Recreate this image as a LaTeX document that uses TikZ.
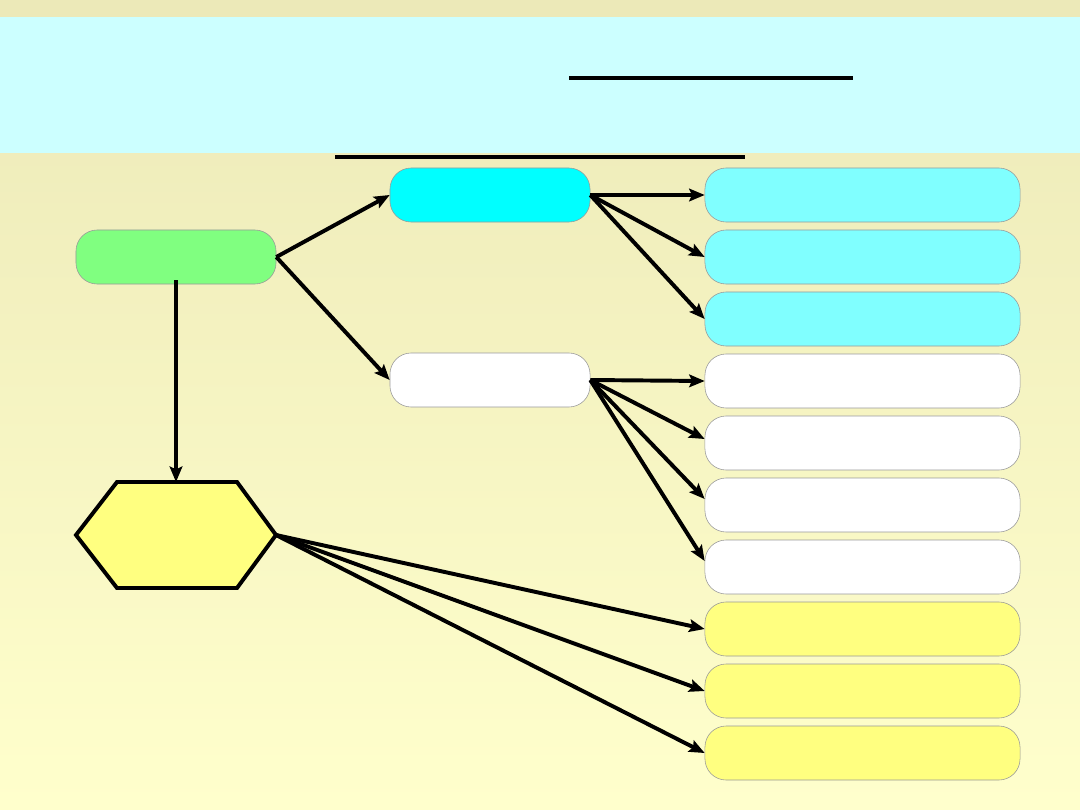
\documentclass[tikz,border=0pt]{standalone}
\usetikzlibrary{arrows.meta,shapes.geometric}
\definecolor{bgtop}{HTML}{ECE9B8}
\definecolor{bgbot}{HTML}{FFFFCC}
\definecolor{band}{HTML}{CCFFFF}
\definecolor{greenfill}{HTML}{80FF80}
\definecolor{cyanfill}{HTML}{00FFFF}
\definecolor{lcyan}{HTML}{80FFFF}
\definecolor{lyellow}{HTML}{FFFF80}
\definecolor{edgegray}{HTML}{999999}
\tikzset{
  box/.style={draw=edgegray, line width=0.4pt, rounded corners=15pt, inner sep=0pt,
              minimum height=1.35cm},
  midbox/.style={box, minimum width=5cm},
  rbox/.style={box, minimum width=7.875cm},
  conn/.style={line width=2.8pt, -{Stealth[length=11pt,width=9pt,inset=2pt]}},
  rule/.style={line width=2.8pt},
}
\begin{document}
\begin{tikzpicture}[x=0.025cm,y=-0.025cm]
\useasboundingbox (0,0) rectangle (1080,810);
% background
\shade[top color=bgtop, bottom color=bgbot] (0,0) rectangle (1080,810);
\fill[band] (0,17) rectangle (1080,153);
\coordinate (r1a) at (569,78); \coordinate (r1b) at (853,78);
\coordinate (r2a) at (335,157); \coordinate (r2b) at (745,157);
\draw[rule] (r1a) -- (r1b);
\draw[line width=2.2pt] (r2a) -- (r2b);
% main nodes
\node[midbox, fill=greenfill] (g) at (176,257) {};
\node[midbox, fill=cyanfill] (c) at (490,195) {};
\node[midbox, fill=white] (w) at (490,380) {};
% right boxes
\node[rbox, fill=lcyan] (b1) at (862.5,195) {};
\node[rbox, fill=lcyan] (b2) at (862.5,257) {};
\node[rbox, fill=lcyan] (b3) at (862.5,319) {};
\node[rbox, fill=white] (b4) at (862.5,381) {};
\node[rbox, fill=white] (b5) at (862.5,443) {};
\node[rbox, fill=white] (b6) at (862.5,505) {};
\node[rbox, fill=white] (b7) at (862.5,567) {};
\node[rbox, fill=lyellow] (b8) at (862.5,629) {};
\node[rbox, fill=lyellow] (b9) at (862.5,691) {};
\node[rbox, fill=lyellow] (b10) at (862.5,753) {};
% hexagon
\coordinate (hexT) at (176,482);
\coordinate (hexR) at (276,535);
\draw[line width=2.8pt, fill=lyellow, line join=miter]
  (76,535) -- (117,482) -- (237,482) -- (hexR) -- (237,588) -- (117,588) -- cycle;
% connectors
\draw[conn] (g.east) -- (c.west);
\draw[conn] (g.east) -- (w.west);
\draw[conn] ([yshift=0.1cm]g.south) -- (hexT);
\draw[conn] (c.east) -- (b1.west);
\draw[conn] (c.east) -- (b2.west);
\draw[conn] (c.east) -- (b3.west);
\draw[conn] (w.east) -- (b4.west);
\draw[conn] (w.east) -- ([yshift=0.1cm]b5.west);
\draw[conn] (w.east) -- ([yshift=0.15cm]b6.west);
\draw[conn] (w.east) -- ([yshift=0.15cm]b7.west);
\draw[conn] (hexR) -- (b8.west);
\draw[conn] (hexR) -- (b9.west);
\draw[conn] (hexR) -- (b10.west);
\end{tikzpicture}
\end{document}
